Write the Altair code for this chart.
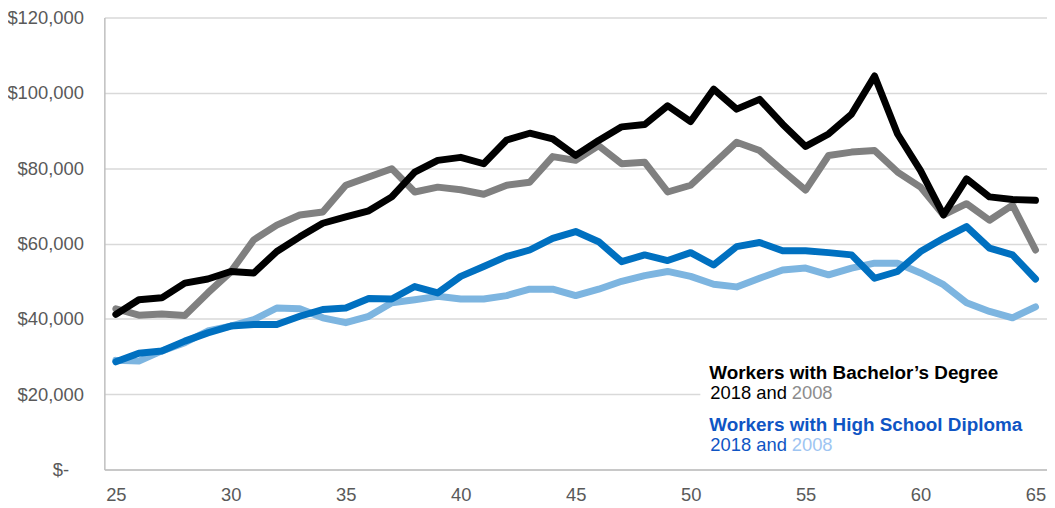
import altair as alt
import pandas as pd

# ---------------- data ----------------
ages = list(range(25, 66))

bach_2018 = [41200, 45100, 45600, 49500, 50600, 52600, 52200, 57900, 61800, 65400,
             67100, 68700, 72400, 79000, 82100, 82900, 81200, 87500, 89300, 87800,
             83400, 87400, 91000, 91600, 96600, 92400, 101000, 95700, 98300, 91700,
             85800, 89100, 94400, 104500, 89100, 79400, 67600, 77200, 72400, 71700,
             71500]
bach_2008 = [42700, 41000, 41300, 40900, 46900, 52500, 61000, 64900, 67600, 68400,
             75500, 77700, 79900, 73700, 75000, 74300, 73100, 75500, 76300, 83100,
             82100, 86000, 81200, 81600, 73700, 75500, 81200, 86900, 84700, 79400,
             74200, 83400, 84300, 84700, 79000, 75000, 67600, 70600, 66200, 70200,
             58300]
hs_2018 = [28600, 30900, 31500, 34100, 36300, 38100, 38500, 38500, 40700, 42500,
           42900, 45400, 45300, 48600, 46900, 51300, 53900, 56600, 58300, 61400,
           63200, 60500, 55200, 57000, 55500, 57600, 54300, 59200, 60300, 58100,
           58100, 57600, 57000, 50800, 52600, 57900, 61400, 64500, 58800, 57000,
           50600]
hs_2008 = [29000, 28800, 31500, 33700, 36800, 38100, 39800, 42900, 42700, 40300,
           39000, 40700, 44300, 45100, 46000, 45300, 45300, 46200, 47900, 47900,
           46200, 47900, 50000, 51500, 52600, 51300, 49200, 48500, 50800, 53000,
           53500, 51700, 53500, 54800, 54800, 52200, 49100, 44300, 42000, 40300,
           43200]

x_ticks = [25, 30, 35, 40, 45, 50, 55, 60, 65]
y_ticks = [0, 20000, 40000, 60000, 80000, 100000, 120000]

series = [
    ("HS 2008", hs_2008, "#7db5e0"),
    ("HS 2018", hs_2018, "#0070c0"),
    ("BA 2008", bach_2008, "#808080"),
    ("BA 2018", bach_2018, "#000000"),
]

FONT = "Liberation Sans"

x_scale = alt.Scale(domain=[24.5, 65.5], nice=False, zero=False)
y_scale = alt.Scale(domain=[0, 120000], nice=False)

x_axis = alt.Axis(values=x_ticks, title=None, grid=False, ticks=False, tickSize=0,
                  labelFontSize=18.5, labelColor="#595959", labelFont=FONT,
                  labelPadding=16, domainColor="#bfbfbf", domainWidth=1.5,
                  labelFlush=False, labelOverlap=False)
y_axis = alt.Axis(values=y_ticks, title=None, ticks=False, tickSize=0,
                  labelExpr="datum.value == 0 ? '$-' : '$' + format(datum.value, ',')",
                  labelFontSize=18.5, labelColor="#595959", labelFont=FONT,
                  labelPadding={"condition": {"test": "datum.value === 0", "value": 36},
                                "value": 21},
                  gridColor="#d9d9d9", gridWidth=1.5,
                  domainColor="#bfbfbf", domainWidth=1.5, labelOverlap=False)


def line(name, values, color):
    df = pd.DataFrame({"age": ages, "earnings": values, "series": name})
    return alt.Chart(df).mark_line(
        color=color, strokeWidth=7, strokeCap="round", strokeJoin="round"
    ).encode(
        x=alt.X("age:Q", scale=x_scale, axis=x_axis),
        y=alt.Y("earnings:Q", scale=y_scale, axis=y_axis),
    )


def label(text, x, y, color, bold=False, size=18.5):
    df = pd.DataFrame({"t": [text]})
    return alt.Chart(df).mark_text(
        align="left", baseline="alphabetic", font=FONT, fontSize=size,
        fontWeight="bold" if bold else "normal", color=color
    ).encode(text="t:N", x=alt.value(x), y=alt.value(y))


layers = [line(n, v, c) for n, v, c in series]

# white box behind the key (hides the gridline behind it)
box = alt.Chart(pd.DataFrame({"a": [0]})).mark_rect(color="white").encode(
    x=alt.value(600), x2=alt.value(960), y=alt.value(338), y2=alt.value(447)
)
layers.append(box)

layers += [
    label("Workers with Bachelor\u2019s Degree", 609, 364, "#000000", bold=True, size=19),
    label("2018 and", 610, 383.5, "#000000"),
    label("2008", 692, 383.5, "#8c8c8c"),
    label("Workers with High School Diploma", 609, 416, "#0f55c4", bold=True, size=19),
    label("2018 and", 610, 436, "#0f55c4"),
    label("2008", 692, 436, "#9ec5f2"),
]

chart = alt.layer(*layers).properties(
    width=949,
    height=455,
    padding={"left": 97, "top": 8, "right": 0, "bottom": 37},
    autosize=alt.AutoSizeParams(type="none"),
).configure_view(stroke=None)

chart.save("out.html", embed_options={"renderer": "svg", "actions": False})
